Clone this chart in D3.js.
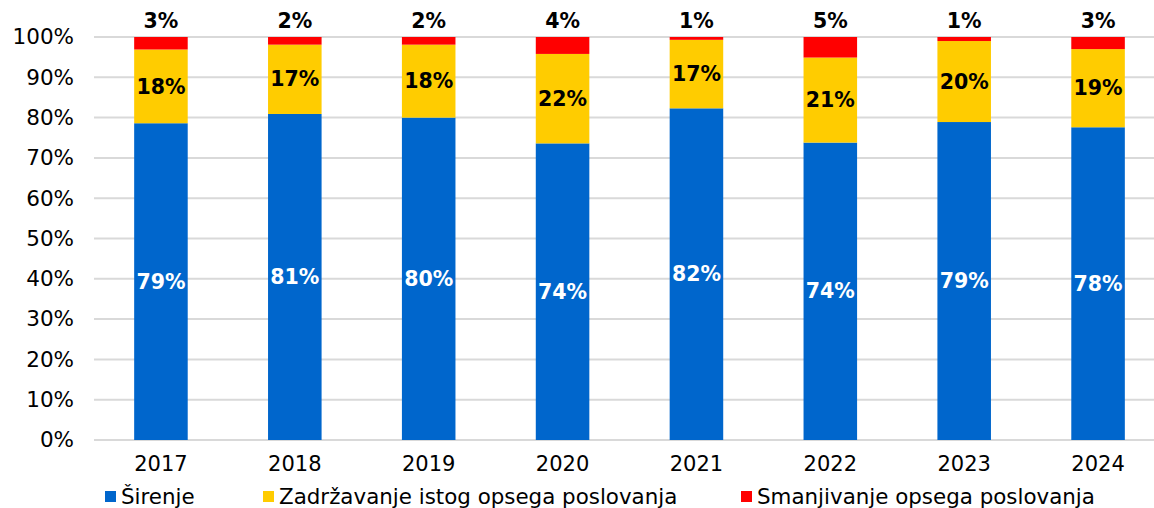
<!DOCTYPE html>
<html>
<head>
<meta charset="utf-8">
<script src="https://cdn.jsdelivr.net/npm/d3@7"></script>
<style>
  html, body { margin: 0; padding: 0; background: #fff; }
  svg { display: block; font-family: "DejaVu Sans", Verdana, sans-serif; }
</style>
</head>
<body>
<svg id="chart" width="1154" height="508"></svg>
<script>
const years = ["2017", "2018", "2019", "2020", "2021", "2022", "2023", "2024"];
const sirenje = [78.6, 80.9, 80.0, 73.6, 82.3, 73.8, 78.9, 77.6];
const zadrzavanje = [18.3, 17.2, 18.1, 22.2, 17.0, 21.1, 20.1, 19.4];
const smanjivanje = [3.1, 1.9, 1.9, 4.2, 0.7, 5.1, 1.0, 3.0];
const seriesNames = ["Širenje", "Zadržavanje istog opsega poslovanja", "Smanjivanje opsega poslovanja"];
const colors = ["#0066CC", "#FFCC00", "#FF0000"];
const yTicks = [0, 10, 20, 30, 40, 50, 60, 70, 80, 90, 100];

const svg = d3.select("#chart");
const x = d3.scaleBand().domain(years).range([94, 1165]).paddingInner(0.6).paddingOuter(0.3);
const y = d3.scaleLinear().domain([0, 100]).range([440, 37]);

// gridlines
svg.append("g").selectAll("line").data(yTicks).join("line")
  .attr("x1", 94).attr("x2", 1165)
  .attr("y1", d => y(d)).attr("y2", d => y(d))
  .attr("stroke", "#d9d9d9").attr("stroke-width", 2);

// y axis labels
const yAxis = d3.axisLeft(y).tickValues(yTicks).tickFormat(d => d + "%").tickSize(0).tickPadding(0);
const ya = svg.append("g").attr("transform", "translate(74,0)").call(yAxis);
ya.select(".domain").remove();
ya.selectAll("text").attr("font-size", 21.5).attr("fill", "#000").attr("font-family", "DejaVu Sans, Verdana, sans-serif");

// x axis labels
const xAxis = d3.axisBottom(x).tickSize(0).tickPadding(0);
const xa = svg.append("g").attr("transform", "translate(0,456)").call(xAxis);
xa.select(".domain").remove();
xa.selectAll("text").attr("font-size", 21).attr("fill", "#000").attr("font-family", "DejaVu Sans, Verdana, sans-serif");

// stack
const rows = years.map((yr, i) => ({ year: yr, s0: sirenje[i], s1: zadrzavanje[i], s2: smanjivanje[i] }));
const stack = d3.stack().keys(["s0", "s1", "s2"]);
const stacked = stack(rows);

const bw = x.bandwidth();
stacked.forEach((layer, li) => {
  svg.append("g").selectAll("rect").data(layer).join("rect")
    .attr("x", d => x(d.data.year))
    .attr("width", bw)
    .attr("y", d => y(d[1]))
    .attr("height", d => y(d[0]) - y(d[1]))
    .attr("fill", colors[li]);
});

// labels
const lbl = svg.append("g").attr("font-weight", "bold").attr("font-size", 20.5).attr("text-anchor", "middle");
stacked.forEach((layer, li) => {
  lbl.selectAll(null).data(layer).join("text")
    .attr("x", d => x(d.data.year) + bw / 2)
    .attr("y", d => li === 2 ? y(100) - 16 : (y(d[0]) + y(d[1])) / 2)
    .attr("dy", "0.35em")
    .attr("fill", li === 0 ? "#fff" : "#000")
    .text(d => Math.round(d[1] - d[0]) + "%");
});

// legend
const legendX = [105, 263, 741];
const lg = svg.append("g");
seriesNames.forEach((name, i) => {
  lg.append("rect").attr("x", legendX[i]).attr("y", 491).attr("width", 11).attr("height", 11).attr("fill", colors[i]);
  lg.append("text").attr("x", legendX[i] + 16).attr("y", 497).attr("dy", "0.35em")
    .attr("font-size", 21.4).attr("fill", "#000").text(name);
});
</script>
</body>
</html>
